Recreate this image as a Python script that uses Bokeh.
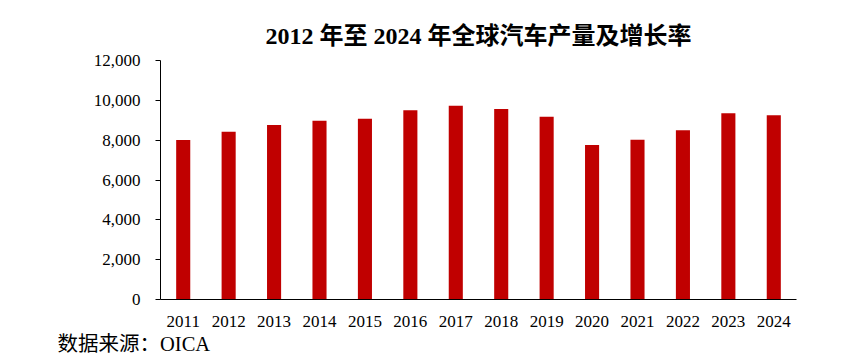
from bokeh.plotting import figure
from bokeh.models import NumeralTickFormatter, FixedTicker, Range1d, Title
from bokeh.embed import file_html
from bokeh.resources import INLINE

years = ["2011", "2012", "2013", "2014", "2015", "2016", "2017",
         "2018", "2019", "2020", "2021", "2022", "2023", "2024"]
production = [8010, 8420, 8760, 8970, 9080, 9500, 9730,
              9560, 9180, 7760, 8020, 8500, 9350, 9250]
y_ticks = [0, 2000, 4000, 6000, 8000, 10000, 12000]

FONT = "'Liberation Serif', 'Noto Sans CJK SC'"

p = figure(x_range=years, y_range=Range1d(0, 12000),
           width=840, height=363, output_backend="svg", toolbar_location=None,
           min_border_left=160, min_border_right=44,
           min_border_top=60, min_border_bottom=64)

p.vbar(x=years, top=production, width=0.31, fill_color="#C00000", line_color=None)

p.title.text = "2012 年至 2024 年全球汽车产量及增长率"
p.title.align = "center"
p.title.offset = -6
p.title.text_font = FONT
p.title.text_font_size = "24px"
p.title.text_font_style = "bold"
p.title.text_color = "#000000"
p.title.standoff = 23

src = Title(text="数据来源：OICA", align="left", offset=-103,
            text_font=FONT, text_font_size="20.5px", text_font_style="normal",
            text_color="#000000", standoff=3, text_line_height=0.85)
p.add_layout(src, "below")

p.outline_line_color = None
p.xgrid.grid_line_color = None
p.ygrid.grid_line_color = None

p.yaxis.ticker = FixedTicker(ticks=y_ticks)
p.yaxis.formatter = NumeralTickFormatter(format="0,0")
p.yaxis.major_tick_out = 5
p.yaxis.major_tick_in = 0
p.yaxis.minor_tick_line_color = None
p.yaxis.major_label_standoff = 15
p.yaxis.axis_line_color = "#000000"
p.yaxis.major_tick_line_color = "#000000"

p.xaxis.major_tick_line_color = None
p.xaxis.minor_tick_line_color = None
p.xaxis.major_tick_out = 0
p.xaxis.major_label_standoff = 16
p.xaxis.axis_line_color = "#000000"

for ax in (p.xaxis, p.yaxis):
    ax.major_label_text_font = FONT
    ax.major_label_text_font_size = "17px"
    ax.major_label_text_color = "#000000"

open("out.html", "w").write(file_html(p, INLINE))
